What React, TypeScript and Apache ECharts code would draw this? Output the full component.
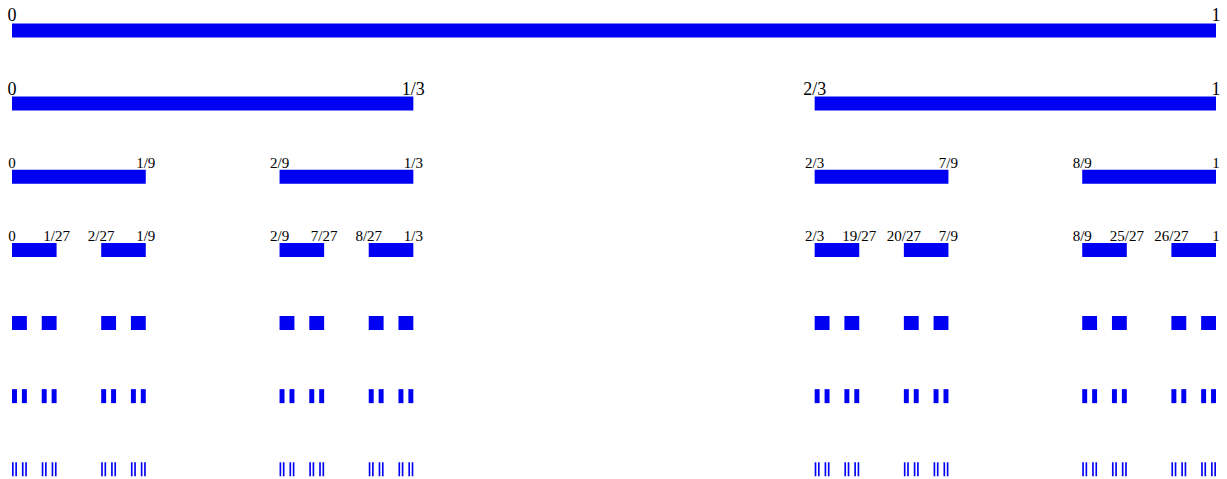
import React, { useEffect, useRef } from "react";
import * as echarts from "echarts";

// Cantor set construction, levels 0..6
const DENOMINATORS = [1, 3, 9, 27, 81, 243, 729];

// left end numerators of each kept interval, interval = [n/den, (n+1)/den]
const LEFT_NUMERATORS: number[][] = [
  [0],
  [0, 2],
  [0, 2, 6, 8],
  [0, 2, 6, 8, 18, 20, 24, 26],
  [0, 2, 6, 8, 18, 20, 24, 26, 54, 56, 60, 62, 72, 74, 78, 80],
  [
    0, 2, 6, 8, 18, 20, 24, 26, 54, 56, 60, 62, 72, 74, 78, 80,
    162, 164, 168, 170, 180, 182, 186, 188, 216, 218, 222, 224, 234, 236, 240, 242,
  ],
  [
    0, 2, 6, 8, 18, 20, 24, 26, 54, 56, 60, 62, 72, 74, 78, 80,
    162, 164, 168, 170, 180, 182, 186, 188, 216, 218, 222, 224, 234, 236, 240, 242,
    486, 488, 492, 494, 504, 506, 510, 512, 540, 542, 546, 548, 558, 560, 564, 566,
    648, 650, 654, 656, 666, 668, 672, 674, 702, 704, 708, 710, 720, 722, 726, 728,
  ],
];

// endpoint labels (left, right for each interval) for the first four levels
const TICK_LABELS: string[][] = [
  ["0", "1"],
  ["0", "1/3", "2/3", "1"],
  ["0", "1/9", "2/9", "1/3", "2/3", "7/9", "8/9", "1"],
  [
    "0", "1/27", "2/27", "1/9", "2/9", "7/27", "8/27", "1/3",
    "2/3", "19/27", "20/27", "7/9", "8/9", "25/27", "26/27", "1",
  ],
];

const LABEL_FONT_SIZES = [18, 18, 15, 15];

export default function App() {
  const ref = useRef<HTMLDivElement>(null);

  useEffect(() => {
    if (!ref.current) return;
    const chart = echarts.init(ref.current, undefined, { renderer: "svg" });

    const data: any[] = [];
    const labels: [string | null, string | null][] = [];
    LEFT_NUMERATORS.forEach((nums, level) => {
      const den = DENOMINATORS[level];
      nums.forEach((n, i) => {
        data.push([n / den, (n + 1) / den, level]);
        const lab = TICK_LABELS[level];
        labels.push(lab ? [lab[2 * i], lab[2 * i + 1]] : [null, null]);
      });
    });

    const BAR_H = 14;

    chart.setOption({
      animation: false,
      backgroundColor: "#ffffff",
      grid: { left: 12, right: 11, top: 0, bottom: 0 },
      xAxis: { type: "value", min: 0, max: 1, show: false },
      yAxis: { type: "value", min: -0.417, max: 6.133, inverse: true, show: false },
      series: [
        {
          type: "custom",
          data,
          encode: { x: [0, 1], y: 2 },
          renderItem: (params: any, api: any) => {
            const level = api.value(2);
            const p0 = api.coord([api.value(0), level]);
            const p1 = api.coord([api.value(1), level]);
            const top = p0[1] - BAR_H / 2;
            const children: any[] = [
              {
                type: "rect",
                shape: { x: p0[0], y: top, width: p1[0] - p0[0], height: BAR_H },
                style: { fill: "#0000f2" },
              },
            ];
            const [l, r] = labels[params.dataIndex];
            const fs = LABEL_FONT_SIZES[level];
            const mk = (txt: string, x: number) => ({
              type: "text",
              x,
              y: top + 1,
              style: {
                text: txt,
                fill: "#000",
                fontFamily: "Liberation Serif",
                fontSize: fs,
                align: "center",
                verticalAlign: "bottom",
              },
            });
            if (l != null) children.push(mk(l, p0[0]));
            if (r != null) children.push(mk(r, p1[0]));
            return { type: "group", children };
          },
        },
      ],
    });

    return () => chart.dispose();
  }, []);

  return (
    <div
      ref={ref}
      style={{ position: "fixed", left: 0, top: 0, width: 1227, height: 479 }}
    />
  );
}
